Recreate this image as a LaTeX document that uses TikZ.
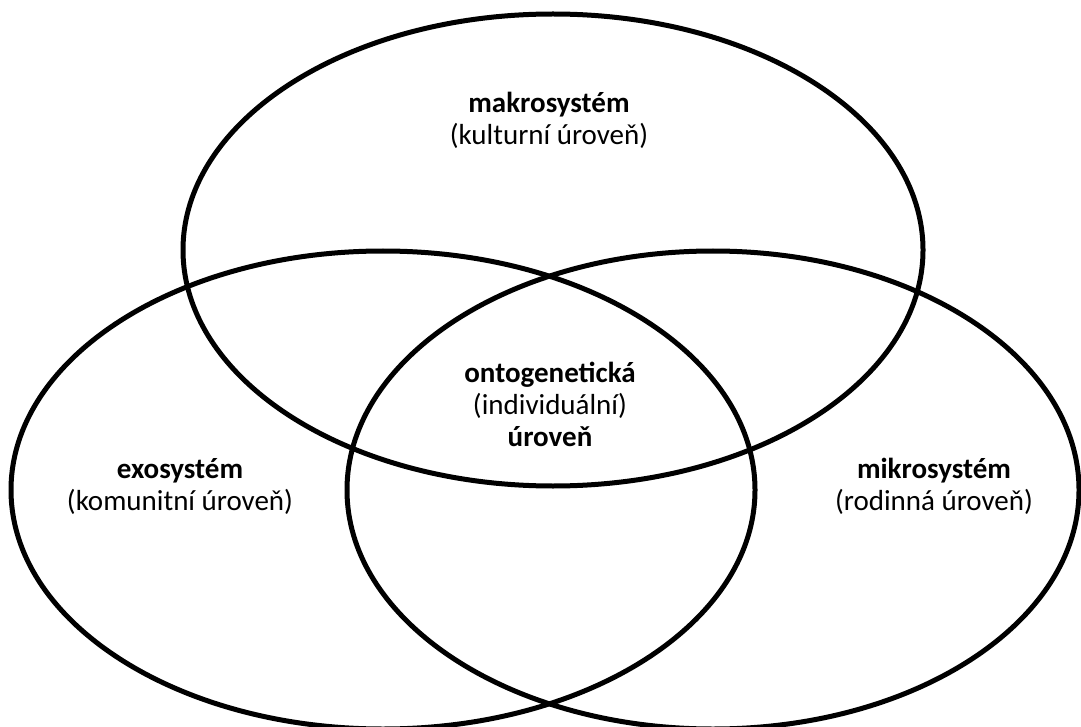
\documentclass[tikz,border=0pt]{standalone}
\usepackage{fontspec}
\setmainfont{Carlito}
\usepackage{tikz}
\usetikzlibrary{shapes,positioning}
\tikzstyle{ring} = [ellipse, draw=black, line width=5pt, inner sep=0pt, outer sep=0pt]
\tikzstyle{label} = [align=center, font=\fontsize{29}{32}\selectfont, inner sep=0pt]

\begin{document}
\begin{tikzpicture}[x=1pt, y=-1pt]
\useasboundingbox (0,0) rectangle (1081,727);

\node[ring, minimum width=740pt, minimum height=472pt] (makro) at (553,250) {};
\node[ring, minimum width=744pt, minimum height=478pt] (exo) at (383,490) {};
\node[ring, minimum width=732pt, minimum height=478pt] (mikro) at (713,490) {};

\node[label] (makrotxt) at (549,120) {\textbf{makrosystém}\\(kulturní úroveň)};
\node[label] (ontotxt) at (550,404) {\textbf{ontogenetická}\\(individuální)\\\textbf{úroveň}};
\node[label] (exotxt) at (180,486) {\textbf{exosystém}\\(komunitní úroveň)};
\node[label] (mikrotxt) at (934,486) {\textbf{mikrosystém}\\(rodinná úroveň)};
\end{tikzpicture}
\end{document}
